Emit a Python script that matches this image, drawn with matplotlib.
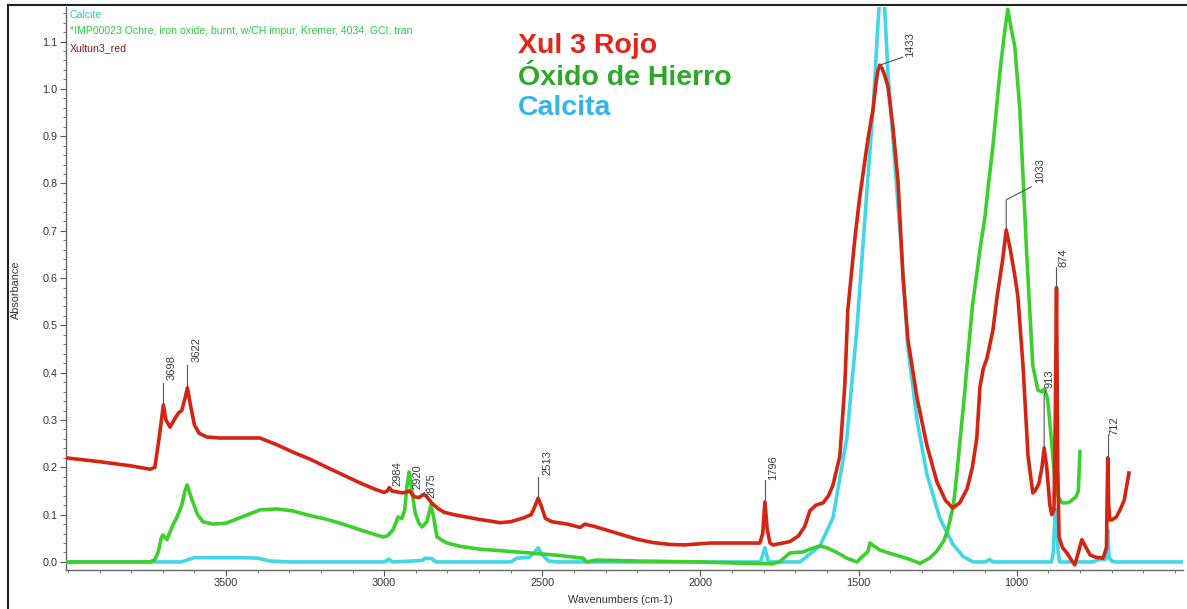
import numpy as np
import matplotlib
matplotlib.use("Agg")
import matplotlib.pyplot as plt
from matplotlib.ticker import MultipleLocator
from matplotlib.lines import Line2D

plt.rcParams['font.family'] = ['Liberation Sans', 'DejaVu Sans']

# ---------------- data (wavenumber cm-1, absorbance) ----------------
red_wn = [4006, 3900, 3800, 3740, 3725, 3712, 3698, 3690, 3677, 3660, 3650, 3640, 3630, 3622,
          3612, 3600, 3585, 3560, 3520, 3450, 3393, 3340, 3288, 3230, 3181, 3130, 3076, 3030,
          3000, 2990, 2984, 2975, 2960, 2940, 2920, 2905, 2890, 2875, 2865, 2850, 2830, 2810,
          2780, 2740, 2700, 2660, 2634, 2600, 2560, 2535, 2525, 2513, 2503, 2490, 2470, 2420,
          2380, 2365, 2355, 2340, 2320, 2250, 2200, 2150, 2096, 2050, 1970, 1900, 1812, 1803,
          1796, 1789, 1780, 1770, 1740, 1717, 1690, 1670, 1654, 1635, 1612, 1595, 1581, 1559,
          1543, 1534, 1511, 1496, 1470, 1454, 1445, 1439, 1433, 1426, 1418, 1407, 1391, 1375,
          1360, 1344, 1315, 1284, 1252, 1225, 1202, 1180, 1157, 1140, 1126, 1116, 1105, 1094,
          1075, 1062, 1044, 1033, 1020, 1005, 996, 980, 964, 949, 942, 930, 920, 913, 905,
          895, 889, 882, 878, 874, 870, 866, 855, 841, 828, 816, 805, 794, 780, 768, 750,
          727, 716, 712, 709, 705, 699, 685, 673, 660, 645]
red_abs = [0.220, 0.212, 0.203, 0.196, 0.200, 0.260, 0.332, 0.300, 0.285, 0.305, 0.315, 0.320, 0.345, 0.368,
           0.330, 0.290, 0.272, 0.264, 0.262, 0.262, 0.262, 0.248, 0.232, 0.216, 0.200, 0.184, 0.167, 0.154,
           0.147, 0.150, 0.157, 0.150, 0.148, 0.146, 0.150, 0.138, 0.136, 0.143, 0.138, 0.125, 0.113, 0.105,
           0.100, 0.095, 0.090, 0.086, 0.083, 0.085, 0.093, 0.100, 0.115, 0.135, 0.118, 0.092, 0.085, 0.080,
           0.073, 0.080, 0.078, 0.076, 0.072, 0.058, 0.048, 0.041, 0.037, 0.036, 0.040, 0.040, 0.040, 0.060,
           0.127, 0.070, 0.040, 0.036, 0.040, 0.043, 0.055, 0.075, 0.108, 0.120, 0.125, 0.140, 0.162, 0.224,
           0.378, 0.532, 0.687, 0.772, 0.895, 0.957, 1.010, 1.038, 1.050, 1.044, 1.030, 1.005, 0.918, 0.803,
           0.609, 0.471, 0.347, 0.247, 0.169, 0.130, 0.114, 0.125, 0.154, 0.200, 0.262, 0.370, 0.410, 0.430,
           0.490, 0.560, 0.640, 0.702, 0.660, 0.602, 0.560, 0.416, 0.224, 0.146, 0.150, 0.165, 0.200, 0.241,
           0.200, 0.120, 0.100, 0.110, 0.300, 0.580, 0.200, 0.053, 0.030, 0.019, 0.005, -0.006, 0.020, 0.047,
           0.030, 0.015, 0.010, 0.008, 0.030, 0.220, 0.120, 0.089, 0.089, 0.095, 0.110, 0.130, 0.188]

green_wn = [4006, 3740, 3725, 3715, 3705, 3700, 3690, 3687, 3670, 3655, 3640, 3630, 3623, 3612,
            3604, 3590, 3573, 3541, 3500, 3450, 3393, 3340, 3290, 3234, 3181, 3130, 3076, 3030,
            3004, 2990, 2972, 2956, 2944, 2935, 2928, 2921, 2912, 2902, 2890, 2880, 2865, 2852,
            2845, 2833, 2815, 2801, 2760, 2697, 2634, 2540, 2450, 2371, 2359, 2340, 2327, 2200,
            2000, 1900, 1774, 1750, 1717, 1700, 1676, 1650, 1622, 1600, 1568, 1537, 1505, 1490,
            1470, 1464, 1450, 1432, 1400, 1379, 1340, 1306, 1275, 1252, 1230, 1217, 1200, 1189,
            1180, 1164, 1157, 1140, 1116, 1100, 1091, 1075, 1053, 1040, 1028, 1018, 1006, 990,
            968, 949, 933, 920, 913, 904, 900, 889, 880, 870, 857, 840, 832, 813, 805, 800]
green_abs = [0.000, 0.000, 0.005, 0.020, 0.050, 0.057, 0.050, 0.047, 0.075, 0.095, 0.120, 0.150, 0.163, 0.140,
             0.125, 0.100, 0.085, 0.080, 0.082, 0.095, 0.110, 0.112, 0.108, 0.098, 0.090, 0.080, 0.068, 0.058,
             0.053, 0.055, 0.068, 0.095, 0.092, 0.110, 0.160, 0.190, 0.150, 0.104, 0.082, 0.074, 0.085, 0.120,
             0.100, 0.053, 0.045, 0.040, 0.033, 0.027, 0.024, 0.019, 0.014, 0.008, 0.000, 0.003, 0.004, 0.002,
             0.000, -0.002, -0.004, 0.000, 0.019, 0.020, 0.021, 0.028, 0.034, 0.030, 0.020, 0.008, 0.000, 0.010,
             0.022, 0.040, 0.033, 0.025, 0.018, 0.014, 0.006, -0.003, 0.008, 0.023, 0.045, 0.070, 0.120, 0.186,
             0.250, 0.360, 0.416, 0.540, 0.660, 0.730, 0.787, 0.879, 1.034, 1.110, 1.168, 1.130, 1.090, 0.957,
             0.648, 0.416, 0.363, 0.360, 0.365, 0.350, 0.330, 0.250, 0.180, 0.140, 0.125, 0.125, 0.127, 0.137,
             0.150, 0.233]

cyan_wn = [4006, 3640, 3620, 3600, 3450, 3400, 3360, 3300, 3000, 2985, 2975, 2880, 2870, 2850,
           2835, 2600, 2580, 2540, 2525, 2513, 2500, 2480, 2450, 1810, 1796, 1785, 1700, 1685,
           1622, 1581, 1537, 1505, 1480, 1454, 1440, 1430, 1418, 1407, 1385, 1363, 1344, 1315,
           1284, 1243, 1202, 1170, 1138, 1100, 1085, 1075, 890, 884, 879, 874, 869, 864, 760,
           740, 720, 716, 712, 708, 700, 690, 474]
cyan_abs = [0.000, 0.000, 0.005, 0.009, 0.009, 0.008, 0.002, 0.000, 0.000, 0.006, 0.000, 0.003, 0.008, 0.007,
            0.000, 0.000, 0.008, 0.010, 0.020, 0.030, 0.015, 0.002, 0.000, 0.000, 0.030, 0.000, 0.000, 0.000,
            0.034, 0.093, 0.262, 0.494, 0.725, 0.957, 1.120, 1.230, 1.180, 1.034, 0.840, 0.648, 0.455, 0.300,
            0.186, 0.093, 0.038, 0.012, 0.000, 0.000, 0.005, 0.000, 0.000, 0.020, 0.095, 0.110, 0.020, 0.000, 0.000,
            0.005, 0.005, 0.020, 0.068, 0.010, 0.002, 0.000, 0.000]

series_names = ["Calcite",
                "*IMP00023 Ochre, iron oxide, burnt, w/CH impur, Kremer, 4034, GCI, tran",
                "Xultun3_red"]
big_labels = ["Xul 3 Rojo", "Óxido de Hierro", "Calcita"]

peak_labels = ["3698", "3622", "2984", "2920", "2875", "2513", "1796", "1433", "1033", "913", "874", "712"]
peak_wn = [3698, 3622, 2984, 2920, 2875, 2513, 1796, 1433, 1033, 913, 874, 712]
peak_abs = [0.332, 0.368, 0.157, 0.150, 0.143, 0.135, 0.127, 1.050, 0.702, 0.241, 0.580, 0.220]

x_ticks = [3500, 3000, 2500, 2000, 1500, 1000]
y_ticks = [0.0, 0.1, 0.2, 0.3, 0.4, 0.5, 0.6, 0.7, 0.8, 0.9, 1.0, 1.1]

# ---------------- figure ----------------
W, H = 1187, 609
fig = plt.figure(figsize=(W / 100, H / 100), dpi=100)
fig.patch.set_facecolor('white')

ax = fig.add_axes([66 / W, 1 - 570 / H, (1183 - 66) / W, (570 - 7) / H])
ax.set_xlim(4006, 474)
ax.set_ylim(-0.017, 1.173)

c_red = '#d42412'
c_green = '#3ccf2e'
c_cyan = '#42d6e6'

ax.plot(cyan_wn, cyan_abs, color=c_cyan, lw=2.6, solid_joinstyle='round', zorder=3)
ax.plot(green_wn, green_abs, color=c_green, lw=2.6, solid_joinstyle='round', zorder=4)
ax.plot(red_wn, red_abs, color=c_red, lw=2.6, solid_joinstyle='round', zorder=5)

for s in ['top', 'right']:
    ax.spines[s].set_visible(False)
for s in ['left', 'bottom']:
    ax.spines[s].set_color('#666666')
    ax.spines[s].set_linewidth(1.0)

ax.set_xticks(x_ticks)
ax.set_xticklabels([str(t) for t in x_ticks])
ax.set_yticks(y_ticks)
ax.set_yticklabels([f"{t:.1f}" for t in y_ticks])
ax.xaxis.set_minor_locator(MultipleLocator(100))
ax.yaxis.set_minor_locator(MultipleLocator(0.02))
ax.tick_params(which='major', direction='out', length=4, width=0.8, color='#555555',
               labelsize=7.8, labelcolor='#333333', pad=2)
ax.tick_params(which='minor', direction='out', length=2.5, width=0.7, color='#777777')

ax.set_xlabel("Wavenumbers (cm-1)", fontsize=7.8, color='#333333')
ax.xaxis.set_label_coords((620 - 66) / (1183 - 66), -(595 - 570) / (570 - 7))
ax.set_ylabel("Absorbance", fontsize=7.8, color='#333333')
ax.yaxis.set_label_coords(-(66 - 21) / (1183 - 66), (570 - 290) / (570 - 7))

# series names (top left)
name_colors = ['#33c6c6', '#2ecc40', '#8b1a1a']
name_y = [15, 31, 48]
for nm, cc, yy in zip(series_names, name_colors, name_y):
    fig.text(70 / W, 1 - yy / H, nm, fontsize=7.6, color=cc, va='center', ha='left')

# big coloured labels
big_colors = ['#e2261b', '#2fa82a', '#36b4ea']
big_y = [46, 78, 108]
for t, cc, yy in zip(big_labels, big_colors, big_y):
    fig.text(518 / W, 1 - yy / H, t, fontsize=20.5, fontweight='bold', color=cc,
             va='center', ha='left')

# peak labels with leader lines (offsets in pixels)
fig.canvas.draw()
leaders = {
    "3698": ([(0, 0), (0, 22)], (8, 25)),
    "3622": ([(0, 0), (0, 23)], (9, 26)),
    "2984": ([(0, 0), (0, 2)], (8, 2)),
    "2920": ([(0, 0), (0, 2)], (8, 2)),
    "2875": ([(0, 0), (0, 2)], (8, -4)),
    "2513": ([(0, 0), (0, 21)], (9, 23)),
    "1796": ([(0, 0), (0, 22)], (8, 22)),
    "1433": ([(0, 0), (23, 8)], (30, 8)),
    "1033": ([(0, 0), (0, 30), (25, 43)], (34, 47)),
    "913": ([(0, 0), (0, 53), (2, 58)], (5, 60)),
    "874": ([(0, 0), (0, 21)], (7, 21)),
    "712": ([(0, 0), (0, 23)], (7, 23)),
}
inv = ax.transData.inverted()
for lab, wn, ab in zip(peak_labels, peak_wn, peak_abs):
    pts, (tx, ty) = leaders[lab]
    px, py = ax.transData.transform((wn, ab))
    disp = np.array([(px + dx, py + dy) for dx, dy in pts])
    dat = inv.transform(disp)
    ax.add_line(Line2D(dat[:, 0], dat[:, 1], color='#555555', lw=0.8, zorder=6, clip_on=False))
    tpos = inv.transform((px + tx, py + ty))
    ax.text(tpos[0], tpos[1], lab, rotation=90, fontsize=8, color='#3a3a3a',
            ha='center', va='bottom', zorder=7)

# outer window frame (top and left)
fig.add_artist(Line2D([8 / W, 8 / W], [0, 1 - 5 / H], transform=fig.transFigure, color='#222222', lw=1.5))
fig.add_artist(Line2D([8 / W, 1], [1 - 5 / H, 1 - 5 / H], transform=fig.transFigure, color='#222222', lw=1.5))

fig.savefig("out.png", dpi=100, facecolor='white')
